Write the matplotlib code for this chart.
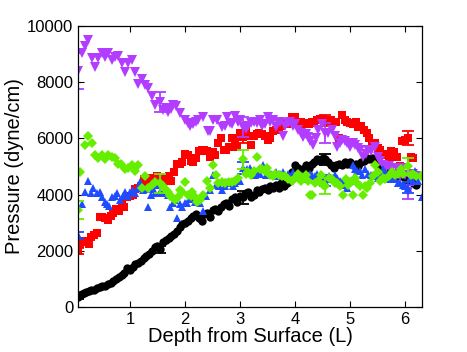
import numpy as np
import matplotlib
matplotlib.use('Agg')
import matplotlib.pyplot as plt

plt.rcParams['font.family'] = ['Liberation Sans', 'DejaVu Sans']

# ---- data ----
black_depth = [0.05, 0.08, 0.12, 0.16, 0.2, 0.25, 0.3, 0.35, 0.4, 0.45, 0.5, 0.55, 0.6, 0.65, 0.7, 0.75,
               0.8, 0.85, 0.9, 0.95, 1.0, 1.05, 1.1, 1.15, 1.2, 1.25, 1.3, 1.35, 1.4, 1.45, 1.5, 1.55,
               1.6, 1.65, 1.7, 1.75, 1.8, 1.85, 1.9, 1.95, 2.0, 2.05, 2.1, 2.15, 2.2, 2.25, 2.3, 2.35,
               2.4, 2.45, 2.5, 2.55, 2.6, 2.65, 2.7, 2.75, 2.8, 2.85, 2.9, 2.95, 3.0, 3.05, 3.1, 3.15,
               3.2, 3.25, 3.3, 3.35, 3.4, 3.45, 3.5, 3.55, 3.6, 3.65, 3.7, 3.75, 3.8, 3.85, 3.9, 3.95,
               4.0, 4.05, 4.1, 4.15, 4.2, 4.25, 4.3, 4.35, 4.4, 4.45, 4.5, 4.55, 4.6, 4.65, 4.7, 4.75,
               4.8, 4.85, 4.9, 4.95, 5.0, 5.05, 5.1, 5.15, 5.2, 5.25, 5.3, 5.35, 5.4, 5.45, 5.5, 5.55,
               5.6, 5.65, 5.7, 5.75, 5.8, 5.85, 5.9, 5.95, 6.0, 6.05, 6.1, 6.15, 6.2]
black_p = [350, 420, 470, 500, 540, 560, 590, 620, 680, 720, 730, 760, 820, 870, 930, 1000,
           1060, 1120, 1200, 1380, 1330, 1430, 1520, 1580, 1650, 1730, 1800, 1900, 2000, 2150, 2180, 2050,
           2300, 2400, 2450, 2520, 2600, 2700, 2850, 2950, 3000, 3050, 3150, 3250, 3300, 3150, 3050, 3300,
           3350, 3200, 3450, 3500, 3400, 3550, 3650, 3700, 3600, 3850, 3900, 3750, 3950, 3900, 4050, 4100,
           3900, 4000, 4150, 4100, 4200, 4250, 4150, 4300, 4250, 4350, 4250, 4400, 4300, 4400, 4500, 4800,
           5050, 4950, 4850, 4900, 5050, 4950, 5100, 5150, 5250, 5200, 5300, 5250, 5150, 5050, 4950, 5050,
           5100, 5050, 5150, 5100, 5150, 5050, 5100, 5000, 5150, 5200, 5300, 5250, 5300, 5150, 5100, 5000,
           5050, 4950, 4850, 4800, 4700, 4650, 4750, 4650, 4600, 4550, 4500, 4400, 4350]

red_depth = [0.05, 0.1, 0.15, 0.2, 0.25, 0.3, 0.35, 0.4, 0.45, 0.5, 0.55, 0.6, 0.65, 0.7, 0.75, 0.8,
             0.85, 0.9, 0.95, 1.0, 1.05, 1.1, 1.15, 1.2, 1.25, 1.3, 1.35, 1.4, 1.45, 1.5, 1.55, 1.6,
             1.65, 1.7, 1.75, 1.8, 1.85, 1.9, 1.95, 2.0, 2.05, 2.1, 2.15, 2.2, 2.25, 2.3, 2.35, 2.4,
             2.45, 2.5, 2.55, 2.6, 2.65, 2.7, 2.75, 2.8, 2.85, 2.9, 2.95, 3.0, 3.05, 3.1, 3.15, 3.2,
             3.25, 3.3, 3.35, 3.4, 3.45, 3.5, 3.55, 3.6, 3.65, 3.7, 3.75, 3.8, 3.85, 3.9, 3.95, 4.0,
             4.05, 4.1, 4.15, 4.2, 4.25, 4.3, 4.35, 4.4, 4.45, 4.5, 4.55, 4.6, 4.65, 4.7, 4.75, 4.8,
             4.85, 4.9, 4.95, 5.0, 5.05, 5.1, 5.15, 5.2, 5.25, 5.3, 5.35, 5.4, 5.45, 5.5, 5.55, 5.6,
             5.65, 5.7, 5.75, 5.8, 5.85, 5.9, 5.95, 6.0, 6.05, 6.1, 6.15]
red_p = [2000, 2250, 2350, 2300, 2250, 2500, 2550, 2650, 3200, 3200, 3150, 3100, 3250, 3350, 3500, 3400,
         3650, 3550, 3900, 3950, 4000, 4200, 4250, 4300, 4550, 4600, 4400, 4600, 4450, 4650, 4500, 4400,
         4600, 4650, 4500, 4800, 5100, 5100, 5150, 5450, 5400, 5200, 5150, 5300, 5550, 5600, 5600, 5550,
         5350, 5500, 5400, 5850, 6000, 5600, 5600, 5700, 6000, 5950, 5700, 6200, 6050, 6300, 6100, 5750,
         6100, 6150, 6200, 6150, 6100, 5950, 6000, 6250, 6300, 6400, 6450, 6550, 6500, 6600, 6750, 6750,
         6550, 6600, 6500, 6550, 6500, 6600, 6550, 6650, 6700, 6700, 6650, 6600, 6650, 6600, 6600, 6000,
         6850, 6650, 6600, 6550, 6500, 6600, 6400, 6450, 6300, 6200, 6000, 5850, 5850, 5650, 5600, 5450,
         5400, 5300, 5550, 5500, 5350, 5000, 5900, 5950, 6000, 5350, 5300]

purple_depth = [0.05, 0.12, 0.18, 0.24, 0.31, 0.36, 0.42, 0.49, 0.55, 0.6, 0.67, 0.73, 0.78, 0.86, 0.91, 0.96,
                1.04, 1.09, 1.15, 1.22, 1.27, 1.33, 1.4, 1.46, 1.55, 1.6, 1.65, 1.69, 1.74, 1.78, 1.84, 1.91,
                2.0, 2.05, 2.09, 2.15, 2.2, 2.24, 2.33, 2.42, 2.46, 2.51, 2.58, 2.67, 2.72, 2.76, 2.82, 2.86,
                2.91, 2.96, 3.0, 3.05, 3.1, 3.15, 3.2, 3.26, 3.31, 3.36, 3.4, 3.45, 3.5, 3.55, 3.6, 3.65,
                3.69, 3.73, 3.78, 3.82, 3.87, 3.91, 3.96, 4.0, 4.05, 4.1, 4.15, 4.2, 4.24, 4.28, 4.33, 4.38,
                4.42, 4.49, 4.55, 4.6, 4.67, 4.72, 4.76, 4.81, 4.85, 4.9, 4.94, 5.0, 5.05, 5.09, 5.14, 5.18,
                5.24, 5.29, 5.33, 5.38, 5.45, 5.51, 5.55, 5.6, 5.65, 5.7, 5.76, 5.81, 5.85, 5.9, 5.96, 6.0,
                6.05, 6.1, 6.15, 6.2]
purple_p = [8400, 9050, 9300, 9500, 8850, 8550, 8850, 9050, 8900, 9050, 8800, 8900, 8950, 8700, 8350, 8700,
            8800, 8350, 7950, 8100, 7900, 7800, 7500, 7200, 7300, 7000, 7100, 6950, 7050, 7200, 7150, 6900,
            6650, 6550, 6450, 6500, 6600, 6650, 6750, 6250, 6250, 6650, 6650, 6400, 6450, 6750, 6550, 6500,
            6800, 6600, 6650, 6400, 6350, 6450, 6550, 6600, 6550, 6650, 6450, 6500, 6750, 6600, 6650, 6400,
            6600, 6600, 6100, 6450, 6550, 6600, 6450, 6500, 6300, 6200, 6050, 6150, 6050, 5900, 5750, 6000,
            6300, 6500, 6200, 6200, 6300, 6100, 5700, 5850, 5950, 5900, 5850, 5700, 5850, 5750, 5650, 5600,
            5350, 5450, 5600, 5550, 5700, 5350, 5200, 5050, 4950, 5000, 4950, 4750, 4950, 4650, 4950, 4700,
            4100, 4550, 4750, 4650]

green_depth = [0.05, 0.09, 0.18, 0.24, 0.31, 0.36, 0.42, 0.49, 0.55, 0.6, 0.67, 0.73, 0.78, 0.84, 0.91, 0.96,
               1.04, 1.09, 1.15, 1.22, 1.27, 1.33, 1.4, 1.45, 1.55, 1.6, 1.65, 1.69, 1.73, 1.76, 1.82, 1.87,
               1.91, 1.95, 2.0, 2.05, 2.1, 2.13, 2.18, 2.22, 2.27, 2.33, 2.4, 2.45, 2.51, 2.56, 2.6, 2.67,
               2.73, 2.8, 2.85, 2.91, 2.96, 3.05, 3.1, 3.15, 3.2, 3.26, 3.31, 3.36, 3.4, 3.45, 3.49, 3.55,
               3.6, 3.64, 3.7, 3.76, 3.82, 3.88, 3.95, 4.0, 4.05, 4.1, 4.15, 4.2, 4.24, 4.28, 4.31, 4.36,
               4.42, 4.47, 4.51, 4.55, 4.62, 4.67, 4.72, 4.76, 4.81, 4.87, 4.92, 4.96, 5.01, 5.05, 5.09, 5.13,
               5.18, 5.24, 5.27, 5.31, 5.36, 5.41, 5.45, 5.5, 5.55, 5.6, 5.64, 5.7, 5.76, 5.81, 5.87, 5.92,
               5.97, 6.05, 6.1, 6.15, 6.2, 6.28]
green_p = [3450, 4800, 5750, 6100, 5850, 5400, 5300, 5400, 5250, 5400, 5350, 5300, 5100, 5100, 4900, 4950,
           5050, 4850, 5050, 4250, 4650, 4250, 4350, 4450, 4400, 4300, 4150, 4100, 3950, 3900, 3800, 3900,
           4150, 4100, 4450, 4000, 3950, 4100, 3900, 3750, 3800, 4000, 4500, 4250, 5050, 4700, 4400, 4450,
           4400, 4450, 4450, 4500, 4600, 5250, 4750, 4800, 4700, 4850, 5350, 4900, 4900, 4850, 4950, 4700,
           4650, 4750, 4700, 4650, 4650, 4550, 4500, 4600, 4750, 4500, 4600, 4700, 4500, 4000, 4000, 4400,
           4500, 4700, 4350, 4300, 4600, 4550, 4400, 4400, 4300, 4000, 4550, 4350, 4450, 4000, 4600, 4400,
           4300, 4000, 4300, 4250, 4400, 4650, 5050, 4800, 4500, 4600, 4550, 4650, 4800, 4700, 4750, 4900,
           4750, 5000, 4700, 4750, 4650, 4650]

blue_depth = [0.05, 0.12, 0.18, 0.24, 0.29, 0.33, 0.4, 0.45, 0.49, 0.55, 0.58, 0.62, 0.67, 0.72, 0.76, 0.82,
              0.87, 0.91, 0.96, 1.0, 1.05, 1.09, 1.14, 1.18, 1.24, 1.28, 1.33, 1.38, 1.42, 1.46, 1.51, 1.55,
              1.6, 1.64, 1.69, 1.73, 1.78, 1.82, 1.86, 1.91, 1.95, 2.0, 2.04, 2.09, 2.13, 2.18, 2.22, 2.27,
              2.33, 2.38, 2.45, 2.51, 2.56, 2.62, 2.67, 2.72, 2.76, 2.82, 2.87, 2.91, 2.96, 3.0, 3.05, 3.09,
              3.13, 3.18, 3.24, 3.28, 3.31, 3.36, 3.42, 3.47, 3.51, 3.56, 3.6, 3.65, 3.69, 3.73, 3.78, 3.82,
              3.87, 3.91, 3.96, 4.04, 4.09, 4.13, 4.18, 4.22, 4.27, 4.31, 4.36, 4.4, 4.45, 4.49, 4.55, 4.58,
              4.62, 4.67, 4.72, 4.76, 4.81, 4.85, 4.9, 4.95, 5.0, 5.05, 5.09, 5.13, 5.18, 5.22, 5.27, 5.33,
              5.38, 5.42, 5.47, 5.51, 5.55, 5.6, 5.64, 5.69, 5.73, 5.78, 5.82, 5.87, 5.91, 5.96, 6.0, 6.05,
              6.09, 6.14, 6.18, 6.24, 6.3]
blue_p = [2550, 3650, 4100, 4500, 4050, 4250, 4050, 4100, 3900, 3750, 3650, 3600, 3900, 3950, 4050, 3800,
          3950, 4100, 3950, 4100, 4150, 4050, 4250, 4450, 4150, 4200, 3550, 4000, 4200, 4050, 4350, 4100,
          4050, 4250, 4000, 3550, 3700, 3800, 3150, 3650, 3550, 3700, 3700, 3850, 3900, 3750, 3750, 3700,
          3400, 3950, 4150, 4700, 4350, 4300, 4150, 4300, 4450, 4400, 4300, 4400, 4550, 4500, 4950, 4850,
          4900, 4950, 4750, 4700, 4800, 4750, 5050, 4700, 4800, 4750, 4700, 4800, 4650, 4750, 4800, 4700,
          4750, 4650, 4800, 4750, 4650, 4700, 4550, 4600, 4750, 4700, 4650, 4750, 4550, 4650, 4500, 4550,
          4650, 4600, 4700, 4600, 4500, 4450, 4350, 4250, 4500, 5050, 4900, 4850, 4850, 4700, 4900, 4750,
          4700, 4650, 4800, 4600, 4750, 4900, 4800, 4600, 4550, 4650, 4550, 4400, 4400, 4350, 4300, 4250,
          4600, 4500, 4850, 4500, 3900]

# error bars every 1.5 L
err_depth = [0.05, 1.55, 3.05, 4.55, 6.05]
black_err = [80, 120, 220, 200, 150]
red_err = [100, 150, 200, 200, 250]
purple_err = [650, 350, 350, 350, 250]
green_err = [330, 330, 350, 280, 300]
blue_err = [120, 150, 200, 200, 200]

series = [
    (black_depth, black_p, black_err, 'black', 'o', 6.0),
    (red_depth, red_p, red_err, '#ff0000', 's', 5.2),
    (purple_depth, purple_p, purple_err, '#b23cff', 'v', 7.0),
    (blue_depth, blue_p, blue_err, '#1f4cff', '^', 6.4),
    (green_depth, green_p, green_err, '#66ee00', 'D', 5.0),
]

fig = plt.figure(figsize=(4.67, 3.52), dpi=100)
ax = fig.add_axes([0.167, 0.128, 0.737, 0.798])

for depth, p, err, col, mk, ms in series:
    depth = np.array(depth)
    p = np.array(p)
    ax.plot(depth, p, linestyle='none', marker=mk, color=col, markersize=ms,
            markeredgewidth=0)
    idx = [int(np.argmin(np.abs(depth - d))) for d in err_depth]
    ax.errorbar(depth[idx], p[idx], yerr=err, fmt='none', ecolor=col,
                elinewidth=1.3, capsize=4, capthick=1.3)

ax.set_xlim(0.055, 6.31)
ax.set_ylim(0, 10000)
ax.set_xticks([1, 2, 3, 4, 5, 6])
ax.set_yticks([0, 2000, 4000, 6000, 8000, 10000])
ax.tick_params(direction='in', top=True, right=True, labelsize=12, length=4, width=0.8)
for s in ax.spines.values():
    s.set_linewidth(0.9)

ax.set_xlabel('Depth from Surface (L)', fontsize=14.5, labelpad=0)
ax.set_ylabel('Pressure (dyne/cm)', fontsize=14.5, labelpad=2)

fig.savefig('out.png', dpi=100)
